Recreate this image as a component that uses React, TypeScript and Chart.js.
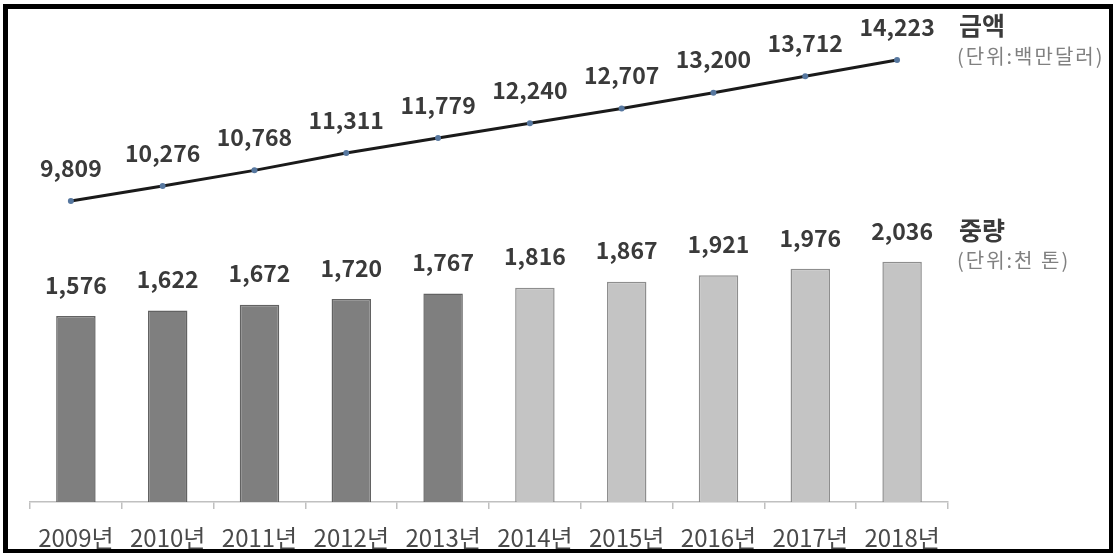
import React, { useEffect, useRef } from "react";
import { Chart, registerables } from "chart.js";

Chart.register(...registerables);

const years = ["2009년", "2010년", "2011년", "2012년", "2013년", "2014년", "2015년", "2016년", "2017년", "2018년"];
const weightValues = [1576, 1622, 1672, 1720, 1767, 1816, 1867, 1921, 1976, 2036];
const amountValues = [9809, 10276, 10768, 11311, 11779, 12240, 12707, 13200, 13712, 14223];
const darkBarCount = 5;

const amountTitle = "금액";
const amountUnit = "(단위:백만달러)";
const weightTitle = "중량";
const weightUnit = "(단위:천 톤)";

const FONT = '"Noto Sans CJK KR", "Noto Sans", sans-serif';
const fmt = (v: number) => v.toLocaleString("en-US");

const labelPlugin = {
  id: "valueLabels",
  afterDatasetsDraw(chart: any) {
    const ctx = chart.ctx;
    ctx.save();
    ctx.textAlign = "center";
    ctx.textBaseline = "middle";
    ctx.fillStyle = "#3a3a3a";
    ctx.font = `bold 23px ${FONT}`;
    const barMeta = chart.getDatasetMeta(0);
    barMeta.data.forEach((el: any, i: number) => {
      ctx.fillText(fmt(weightValues[i]), el.x, el.y - 31);
    });
    const lineMeta = chart.getDatasetMeta(1);
    lineMeta.data.forEach((el: any, i: number) => {
      ctx.fillText(fmt(amountValues[i]), el.x, el.y - 33);
    });

    ctx.textAlign = "left";
    ctx.fillStyle = "#3a3a3a";
    ctx.font = `bold 25px ${FONT}`;
    ctx.fillText(amountTitle, 959, 25);
    ctx.fillText(weightTitle, 959, 230);
    ctx.fillStyle = "#808080";
    ctx.font = `20px ${FONT}`;
    try {
      ctx.letterSpacing = "2px";
    } catch (e) {}
    ctx.fillText(amountUnit, 957, 56);
    ctx.fillText(weightUnit, 957, 260);
    ctx.restore();
  },
};

export default function App() {
  const canvasRef = useRef<HTMLCanvasElement | null>(null);

  useEffect(() => {
    const canvas = canvasRef.current;
    if (!canvas) return;
    const lineShift = 0.055;
    const chart = new Chart(canvas, {
      type: "bar",
      data: {
        labels: years,
        datasets: [
          {
            type: "bar",
            label: weightTitle,
            data: weightValues,
            backgroundColor: weightValues.map((_, i) => (i < darkBarCount ? "#7f7f7f" : "#c4c4c4")),
            borderColor: weightValues.map((_, i) => (i < darkBarCount ? "#626262" : "#8e8e8e")),
            borderWidth: 1.5,
            barPercentage: 0.43,
            categoryPercentage: 1,
            grouped: false,
            xAxisID: "x",
            yAxisID: "y",
          },
          {
            type: "line",
            label: amountTitle,
            data: amountValues.map((v, i) => ({ x: i, y: v })),
            borderColor: "#1a1a1a",
            borderWidth: 3,
            pointRadius: 3,
            pointBackgroundColor: "#56779f",
            pointBorderWidth: 0,
            tension: 0,
            xAxisID: "x2",
            yAxisID: "y1",
          } as any,
        ],
      },
      options: {
        responsive: false,
        animation: false,
        devicePixelRatio: 1,
        layout: { padding: { left: 30, right: 166, top: 20, bottom: 0 } },
        plugins: {
          legend: { display: false },
          tooltip: { enabled: false },
          title: { display: false },
        },
        scales: {
          x: {
            type: "category",
            offset: true,
            grid: {
              display: true,
              offset: true,
              drawOnChartArea: false,
              drawTicks: true,
              tickLength: 7,
              color: "#c0c0c0",
              lineWidth: 1.5,
            },
            border: { display: true, color: "#c0c0c0", width: 1.5 },
            ticks: {
              autoSkip: false,
              maxRotation: 0,
              padding: 14,
              color: "#4a4a4a",
              font: { family: FONT, size: 24 },
            },
            afterFit: (scale: any) => {
              scale.height = 51;
            },
          },
          x2: {
            type: "linear",
            display: false,
            offset: false,
            grid: { offset: false },
            min: -0.5 + lineShift,
            max: 9.5 + lineShift,
          },
          y: {
            display: false,
            min: 0,
            max: 4085,
          },
          y1: {
            display: false,
            min: 386,
            max: 15475,
          },
        },
      },
      plugins: [labelPlugin],
    });
    return () => chart.destroy();
  }, []);

  return (
    <div style={{ position: "fixed", left: 0, top: 0, width: 1114, height: 553, background: "#fff" }}>
      <canvas ref={canvasRef} width={1114} height={553} style={{ width: 1114, height: 553, display: "block" }} />
      <div
        style={{
          position: "absolute",
          left: 3,
          top: 4,
          width: 1110,
          height: 549,
          boxSizing: "border-box",
          borderTop: "5px solid #000",
          borderLeft: "5px solid #000",
          borderRight: "4px solid #000",
          borderBottom: "4px solid #000",
          pointerEvents: "none",
        }}
      />
    </div>
  );
}
